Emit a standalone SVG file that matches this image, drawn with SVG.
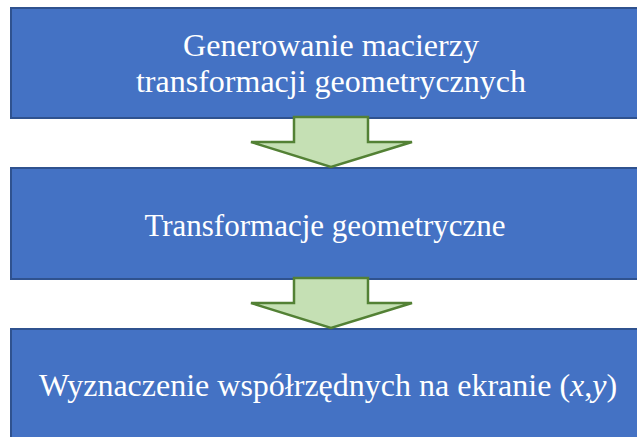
<svg xmlns="http://www.w3.org/2000/svg" width="637" height="437" viewBox="0 0 637 437">
  <defs>
    <style>
      .box { fill: #4472C4; stroke: #2F528F; stroke-width: 2; }
      .arrow { fill: #C5E0B4; stroke: #538135; stroke-width: 2.5; stroke-linejoin: miter; }
      .label { font-family: 'Liberation Serif', 'Times New Roman', Times, serif; font-size: 32px; fill: #FFFFFF; text-anchor: middle; }
    </style>
  </defs>
  <rect width="637" height="437" fill="#FFFFFF"/>

  <g id="node-generowanie">
    <rect class="box" x="11" y="8" width="640" height="110"/>
    <text class="label" x="331" y="56">Generowanie macierzy</text>
    <text class="label" x="331" y="92">transformacji geometrycznych</text>
  </g>

  <g id="node-transformacje">
    <rect class="box" x="11" y="168" width="640" height="111"/>
    <text class="label" x="325" y="236" style="font-size:31px">Transformacje geometryczne</text>
  </g>

  <g id="node-wyznaczenie">
    <rect class="box" x="11" y="329" width="640" height="120"/>
    <text class="label" x="328" y="396">Wyznaczenie współrzędnych na ekranie (<tspan font-style="italic">x</tspan>,<tspan font-style="italic">y</tspan>)</text>
  </g>

  <g id="connectors">
    <polygon class="arrow" points="294,117 368,117 368,142 412,142 331,167 251,142 294,142"/>
    <polygon class="arrow" points="294,278 368,278 368,303 412,303 331,328 251,303 294,303"/>
  </g>
</svg>
